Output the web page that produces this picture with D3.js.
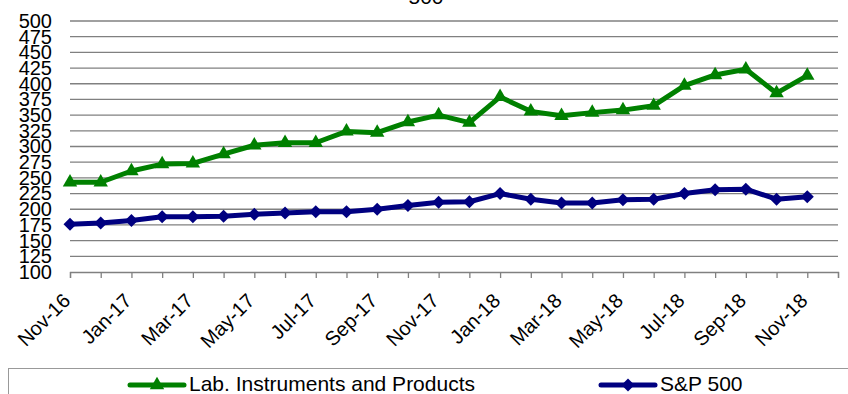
<!DOCTYPE html>
<html>
<head>
<meta charset="utf-8">
<script src="https://cdn.jsdelivr.net/npm/d3@7"></script>
<style>
  body { margin: 0; background: #fff; }
  svg { display: block; font-family: "Liberation Sans", Arial, sans-serif; }
</style>
</head>
<body>
<script>
const months = ["Nov-16","Dec-16","Jan-17","Feb-17","Mar-17","Apr-17","May-17","Jun-17","Jul-17",
  "Aug-17","Sep-17","Oct-17","Nov-17","Dec-17","Jan-18","Feb-18","Mar-18","Apr-18","May-18",
  "Jun-18","Jul-18","Aug-18","Sep-18","Oct-18","Nov-18"];
const labValues = [243,243,261,272,273,288,302,306,306,324,322,339,350,338,379,356,349,354,358,365,397,414,423,385,413];
const spValues = [176,178,182,188,188,189,192,194,196,196,200,206,211,212,225,216,210,210,215,216,225,231,232,216,220];
const yTicks = d3.range(100, 501, 25);
const seriesNames = ["Lab. Instruments and Products", "S&P 500"];

const W = 848, H = 394;
const plot = { left: 70, right: 838, top: 21, bottom: 272 };

const svg = d3.select("body").append("svg")
  .attr("width", W)
  .attr("height", H);

const x = d3.scaleLinear().domain([0, months.length]).range([plot.left, plot.right]);
const y = d3.scaleLinear().domain([100, 500]).range([plot.bottom, plot.top]);

// title (only its last line shows)
svg.append("text")
  .attr("x", 426)
  .attr("y", 4)
  .attr("text-anchor", "middle")
  .style("font-size", "21px")
  .text("500");

// gridlines
svg.append("g")
  .selectAll("line")
  .data(yTicks.filter(d => d > 100))
  .enter()
  .append("line")
  .attr("x1", plot.left)
  .attr("x2", plot.right)
  .attr("y1", d => y(d))
  .attr("y2", d => y(d))
  .attr("stroke", "#808080")
  .attr("stroke-width", 1.3);

// y labels
const yAxis = d3.axisLeft(y).tickValues(yTicks).tickSize(0).tickPadding(18);
svg.append("g")
  .attr("transform", "translate(" + plot.left + ",0)")
  .call(yAxis)
  .call(g => g.select(".domain").remove())
  .selectAll("text")
  .style("font-size", "20px")
  .attr("fill", "#000");

// x axis
const xAxis = d3.axisBottom(x)
  .tickValues(d3.range(months.length + 1))
  .tickSize(6)
  .tickFormat(i => (i % 2 === 0 && i < months.length) ? months[i] : "");
const gx = svg.append("g")
  .attr("transform", "translate(0," + plot.bottom + ")")
  .call(xAxis);
gx.select(".domain").attr("stroke", "#808080").attr("stroke-width", 1.3);
gx.selectAll(".tick line").attr("stroke", "#808080").attr("stroke-width", 1.3);
gx.selectAll(".tick text")
  .attr("y", 0)
  .attr("dy", 0)
  .attr("text-anchor", "end")
  .attr("transform", "translate(1,30) rotate(-45)")
  .attr("fill", "#000")
  .style("font-size", "20px");

// series
const line = d3.line().x((d, i) => x(i)).y(d => y(d));
const triangle = d3.symbol().type(d3.symbolTriangle).size(90);
const diamond = d3.symbol().type(d3.symbolSquare).size(85);

function drawSeries(values, color, symbol, rotate) {
  svg.append("path")
    .datum(values)
    .attr("d", line)
    .attr("fill", "none")
    .attr("stroke", color)
    .attr("stroke-width", 5)
    .attr("stroke-linejoin", "round");
  svg.append("g")
    .selectAll("path")
    .data(values)
    .enter()
    .append("path")
    .attr("d", symbol)
    .attr("transform", (d, i) => "translate(" + x(i) + "," + y(d) + ")" + (rotate ? " rotate(45)" : ""))
    .attr("fill", color);
}

drawSeries(spValues, "#000080", diamond, true);
drawSeries(labValues, "#008000", triangle, false);

// legend
svg.append("rect")
  .attr("x", 8.5)
  .attr("y", 368.5)
  .attr("width", 860)
  .attr("height", 60)
  .attr("fill", "none")
  .attr("stroke", "#999")
  .attr("stroke-width", 1);

const legendItems = [
  { name: seriesNames[0], color: "#008000", symbol: triangle, rotate: false, x0: 130 },
  { name: seriesNames[1], color: "#000080", symbol: diamond, rotate: true, x0: 601 }
];
const lg = svg.append("g").selectAll("g")
  .data(legendItems)
  .enter()
  .append("g")
  .attr("transform", d => "translate(" + d.x0 + ",385)");
lg.append("line")
  .attr("x1", 0).attr("x2", 54)
  .attr("stroke", d => d.color)
  .attr("stroke-width", 5)
  .attr("stroke-linecap", "round");
lg.append("path")
  .attr("d", d => d.symbol())
  .attr("transform", d => "translate(27,0)" + (d.rotate ? " rotate(45)" : ""))
  .attr("fill", d => d.color);
lg.append("text")
  .attr("x", 59)
  .attr("y", 6)
  .style("font-size", "21px")
  .text(d => d.name);
</script>
</body>
</html>
